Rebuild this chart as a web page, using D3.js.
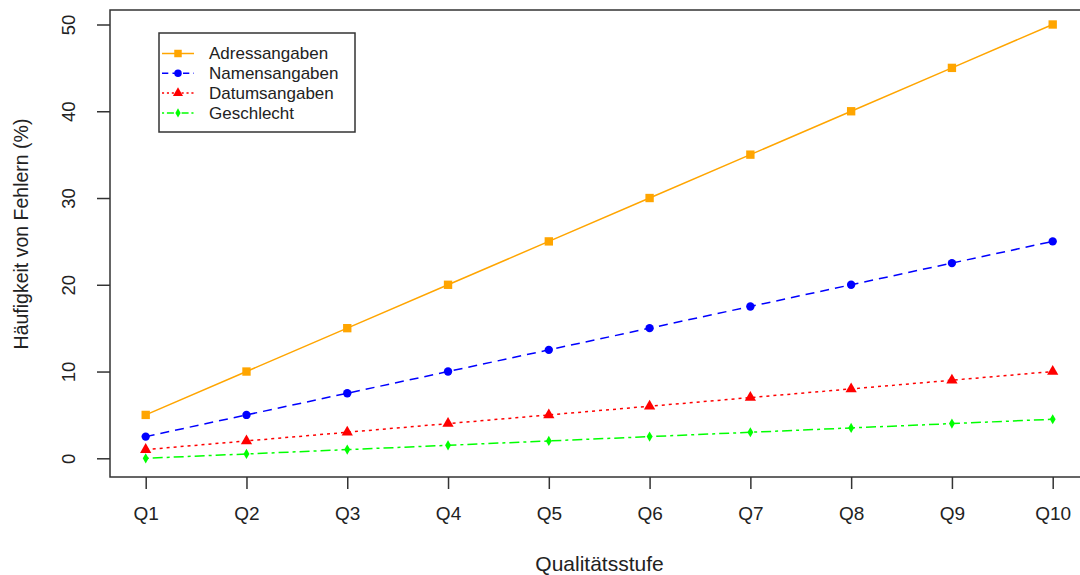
<!DOCTYPE html>
<html>
<head>
<meta charset="utf-8">
<script src="https://cdn.jsdelivr.net/npm/d3@7"></script>
<style>
	body { margin: 0; background: #fff; }
	svg text { font-family: 'Liberation Sans', Arial, sans-serif; fill: #222; }
</style>
</head>
<body>
<div id="chart"></div>
<script>
// Data
const stufen = ['Q1', 'Q2', 'Q3', 'Q4', 'Q5', 'Q6', 'Q7', 'Q8', 'Q9', 'Q10'];
const adressangaben = [5, 10, 15, 20, 25, 30, 35, 40, 45, 50];
const namensangaben = [2.5, 5, 7.5, 10, 12.5, 15, 17.5, 20, 22.5, 25];
const datumsangaben = [1, 2, 3, 4, 5, 6, 7, 8, 9, 10];
const geschlecht = [0, 0.5, 1, 1.5, 2, 2.5, 3, 3.5, 4, 4.5];
const yTicks = [0, 10, 20, 30, 40, 50];

const series = [
	{ name: 'Adressangaben', values: adressangaben, color: '#FFA500', dash: null, symbol: d3.symbolSquare, size: 70 },
	{ name: 'Namensangaben', values: namensangaben, color: '#0000FF', dash: '9,6', symbol: d3.symbolCircle, size: 55 },
	{ name: 'Datumsangaben', values: datumsangaben, color: '#FF0000', dash: '3,4', symbol: d3.symbolTriangle, size: 55 },
	{ name: 'Geschlecht', values: geschlecht, color: '#00FF00', dash: '3,4,10,4', symbol: d3.symbolDiamond, size: 30 }
];

const W = 1080, H = 575;
const box = { left: 110, right: 1089, top: 10, bottom: 477 };

const svg = d3
	.select('#chart')
	.append('svg')
	.attr('width', W)
	.attr('height', H);

// Scales (R style 4% padding)
const x = d3
	.scalePoint()
	.domain(stufen)
	.range([145.7, 1052.7]);
const y = d3
	.scaleLinear()
	.domain([0, 50])
	.range([458.3, 24.5]);

// Box
svg
	.append('rect')
	.attr('x', box.left)
	.attr('y', box.top)
	.attr('width', box.right - box.left)
	.attr('height', box.bottom - box.top)
	.attr('fill', 'none')
	.attr('stroke', '#333')
	.attr('stroke-width', 1.5);

// X axis
const xAxis = d3.axisBottom(x).tickSize(12).tickPadding(18);
const aX = svg
	.append('g')
	.attr('transform', 'translate(0,' + box.bottom + ')')
	.call(xAxis);
aX.select('.domain').remove();
aX.selectAll('line').attr('stroke', '#333').attr('stroke-width', 1.5);
aX.selectAll('text').attr('font-size', 19).attr('fill', '#222');

// Y axis
const yAxis = d3.axisLeft(y).tickValues(yTicks).tickSize(13).tickFormat(d3.format('d'));
const aY = svg
	.append('g')
	.attr('transform', 'translate(' + box.left + ',0)')
	.call(yAxis);
aY.select('.domain').remove();
aY.selectAll('line').attr('stroke', '#333').attr('stroke-width', 1.5);
aY
	.selectAll('text')
	.attr('font-size', 18.5)
	.attr('fill', '#222')
	.attr('text-anchor', 'middle')
	.attr('x', null)
	.attr('dy', null)
	.attr('transform', 'translate(-35,0) rotate(-90)');

// Axis titles
svg
	.append('text')
	.attr('x', (box.left + box.right) / 2)
	.attr('y', 571)
	.attr('text-anchor', 'middle')
	.attr('font-size', 21)
	.text('Qualitätsstufe');
svg
	.append('text')
	.attr('transform', 'translate(28,234) rotate(-90)')
	.attr('text-anchor', 'middle')
	.attr('font-size', 19.5)
	.text('Häufigkeit von Fehlern (%)');

// Lines and points
const line = d3
	.line()
	.x((d, i) => x(stufen[i]))
	.y(d => y(d));

series.forEach(s => {
	svg
		.append('path')
		.datum(s.values)
		.attr('d', line)
		.attr('fill', 'none')
		.attr('stroke', s.color)
		.attr('stroke-width', 1.5)
		.attr('stroke-dasharray', s.dash);
	svg
		.append('g')
		.selectAll('path')
		.data(s.values)
		.enter()
		.append('path')
		.attr('d', d3.symbol().type(s.symbol).size(s.size))
		.attr('transform', (d, i) => 'translate(' + x(stufen[i]) + ',' + y(d) + ')')
		.attr('fill', s.color);
});

// Legend
const legend = svg.append('g');
legend
	.append('rect')
	.attr('x', 159)
	.attr('y', 33)
	.attr('width', 196)
	.attr('height', 99)
	.attr('fill', '#fff')
	.attr('stroke', '#333')
	.attr('stroke-width', 1.5);
const rows = legend
	.selectAll('g.row')
	.data(series)
	.enter()
	.append('g')
	.attr('class', 'row')
	.attr('transform', (d, i) => 'translate(0,' + (53.5 + i * 19.8) + ')');
rows
	.append('line')
	.attr('x1', 162)
	.attr('x2', 194)
	.attr('stroke', d => d.color)
	.attr('stroke-width', 1.5)
	.attr('stroke-dasharray', d => (d.dash ? d.dash.split(',').map(v => v * 0.7).join(',') : null));
rows
	.append('path')
	.attr('d', d => d3.symbol().type(d.symbol).size(d.size * 0.8)())
	.attr('transform', 'translate(178,0)')
	.attr('fill', d => d.color);
rows
	.append('text')
	.attr('x', 209)
	.attr('dy', '0.35em')
	.attr('font-size', 17)
	.text(d => d.name);
</script>
</body>
</html>
